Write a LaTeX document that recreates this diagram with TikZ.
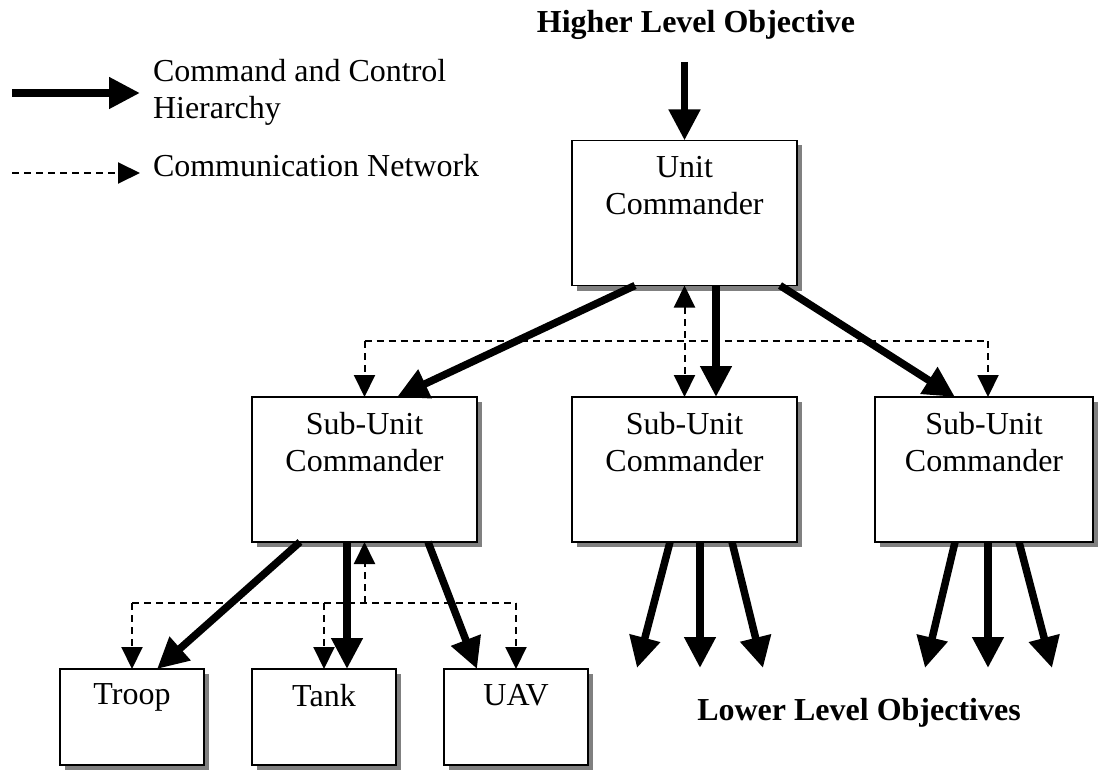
\documentclass[tikz,border=0pt]{standalone}
\usepackage{fontspec}
\setmainfont{Liberation Serif}
\usetikzlibrary{arrows.meta,shadows}
\begin{document}
\begin{tikzpicture}[x=1pt,y=-1pt,
  box/.style={draw, line width=1.5pt, fill=white, rectangle, inner sep=0pt, outer sep=0pt,
    drop shadow={fill=black!50, opacity=1, shadow xshift=5pt, shadow yshift=-5pt}},
  bigbox/.style={box, minimum width=225pt, minimum height=145pt},
  smallbox/.style={box, minimum width=144pt, minimum height=96pt},
  lbl/.style={inner sep=0pt, outer sep=0pt, align=center, font=\fontsize{32}{37}\selectfont},
  cmd/.style={line width=7.5pt, -{Triangle[length=31pt,width=30pt]}},
  comline/.style={line width=2pt, dash pattern=on 7pt off 5pt},
  com/.style={comline, -{Triangle[length=22pt,width=21pt]}},
  comboth/.style={comline, {Triangle[length=22pt,width=21pt]}-{Triangle[length=22pt,width=21pt]}}
]
\useasboundingbox (0,0) rectangle (1099,770);

% legend
\coordinate (la1) at (12,93);
\coordinate (la2) at (140,93);
\draw[cmd] (la1) -- (la2);
\node[lbl, anchor=north west, align=left] (lt1) at (153,59) {Command and Control\\Hierarchy};
\coordinate (lb1) at (12,173);
\coordinate (lb2) at (140,173);
\draw[com] (lb1) -- (lb2);
\node[lbl, anchor=base west] (lt2) at (153,177) {Communication Network};

% titles
\node[lbl, anchor=base, font=\fontsize{32}{37}\selectfont\bfseries] (hlo) at (696,33) {Higher Level Objective};
\node[lbl, anchor=base, font=\fontsize{32}{37}\selectfont\bfseries] (llo) at (859,720) {Lower Level Objectives};

% boxes
\node[bigbox] (uc) at (684.5,213) {};
\node[lbl, anchor=north] (uct) at (684.5,156) {Unit\\Commander};
\node[bigbox] (s1) at (364.5,469.5) {};
\node[lbl, anchor=north] (s1t) at (364.5,412) {Sub-Unit\\Commander};
\node[bigbox] (s2) at (684.5,469.5) {};
\node[lbl, anchor=north] (s2t) at (684.5,412) {Sub-Unit\\Commander};
\node[bigbox, minimum width=218pt] (s3) at (984,469.5) {};
\node[lbl, anchor=north] (s3t) at (984,412) {Sub-Unit\\Commander};
\node[smallbox] (tr) at (132,717) {};
\node[lbl, anchor=north] (trt) at (132,684) {Troop};
\node[smallbox] (tk) at (324,717) {};
\node[lbl, anchor=north] (tkt) at (324,684) {Tank};
\node[smallbox] (ua) at (516,717) {};
\node[lbl, anchor=north] (uat) at (516,684) {UAV};

% top arrow
\coordinate (top) at (684.5,62);
\draw[cmd] (top) -- (uc.north);

% unit commander to sub-units
\draw[cmd] ([xshift=-49.5pt]uc.south) -- ([xshift=32.5pt]s1.north);
\draw[cmd] ([xshift=31.5pt]uc.south) -- ([xshift=31.5pt]s2.north);
\draw[cmd] ([xshift=95.5pt]uc.south) -- ([xshift=-29pt]s3.north);

% communication network (upper)
\coordinate (hl) at (364.5,341);
\coordinate (hr) at (988,341);
\draw[comline] (hl) -- (hr);
\draw[com] (hl) -- (s1.north);
\draw[com] (hr) -- (hr |- s3.north);
\draw[comboth] (uc.south) -- (s2.north);

% sub-unit 1 to elements
\draw[cmd] ([xshift=-64.5pt]s1.south) -- ([xshift=25pt]tr.north);
\draw[cmd] ([xshift=-17.5pt]s1.south) -- ([xshift=23pt]tk.north);
\draw[cmd] ([xshift=63.5pt]s1.south) -- ([xshift=-39pt]ua.north);

% communication network (lower)
\coordinate (bm) at (364.5,603);
\coordinate (bl) at (132,603);
\coordinate (br) at (516,603);
\draw[comline] (bl) -- (br);
\draw[com] (bm) -- (s1.south);
\draw[com] (bl) -- (tr.north);
\draw[com] (bl -| tk.north) -- (tk.north);
\draw[com] (br) -- (ua.north);

% sub-unit 2 lower objectives
\coordinate (e1) at (637,668);
\coordinate (e2) at (700,668);
\coordinate (e3) at (763,668);
\draw[cmd] ([xshift=-14.5pt]s2.south) -- (e1);
\draw[cmd] ([xshift=15.5pt]s2.south) -- (e2);
\draw[cmd] ([xshift=47.5pt]s2.south) -- (e3);

% sub-unit 3 lower objectives
\coordinate (f1) at (925,668);
\coordinate (f2) at (988,668);
\coordinate (f3) at (1052,668);
\draw[cmd] ([xshift=-29pt]s3.south) -- (f1);
\draw[cmd] ([xshift=4pt]s3.south) -- (f2);
\draw[cmd] ([xshift=35pt]s3.south) -- (f3);
\end{tikzpicture}
\end{document}
